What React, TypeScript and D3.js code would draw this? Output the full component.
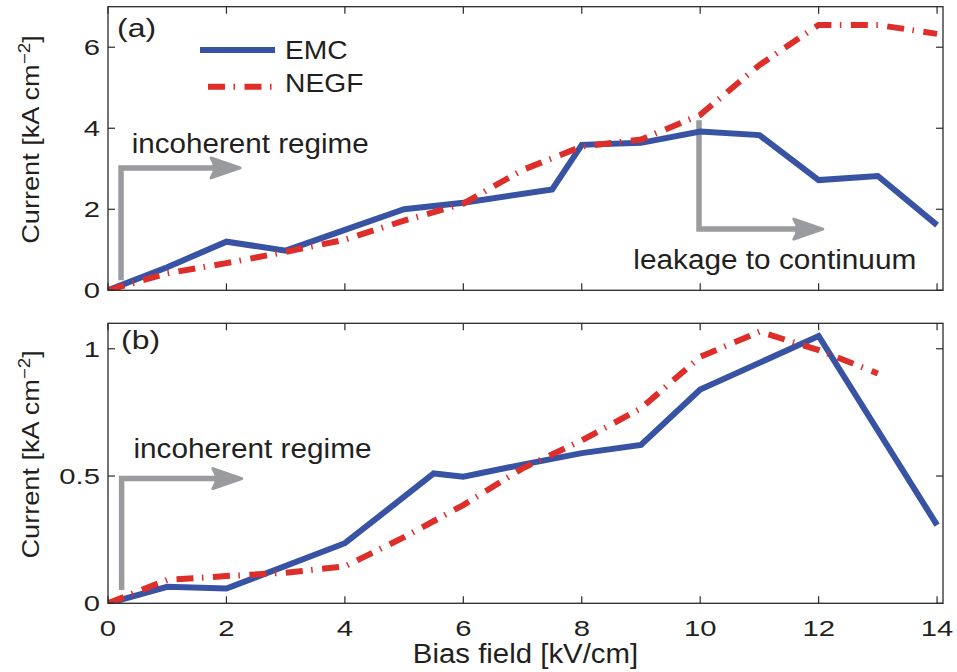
import React from 'react';
import * as d3 from 'd3';

// ---------- data ----------
const xTicks = [0, 2, 4, 6, 8, 10, 12, 14];
const xTickLabels = ['0', '2', '4', '6', '8', '10', '12', '14'];
const yTicksA = [0, 2, 4, 6];
const yTickLabelsA = ['0', '2', '4', '6'];
const yTicksB = [0, 0.5, 1];
const yTickLabelsB = ['0', '0.5', '1'];

// panel (a)
const emcXA = [0, 1, 2, 3, 4, 5, 6, 7.5, 8, 9, 10, 11, 12, 13, 14];
const emcYA = [0, 0.57, 1.2, 0.98, 1.49, 2.0, 2.16, 2.49, 3.59, 3.64, 3.92, 3.83, 2.72, 2.82, 1.61];
const negfXA = [0, 1, 2, 3, 4, 5, 6, 7, 8, 9, 10, 11, 12, 13, 14];
const negfYA = [0, 0.42, 0.67, 0.95, 1.25, 1.72, 2.14, 2.97, 3.55, 3.72, 4.33, 5.56, 6.55, 6.55, 6.33];

// panel (b)
const emcXB = [0, 1, 2, 4, 5.5, 6, 7, 8, 9, 10, 12, 14];
const emcYB = [0, 0.065, 0.058, 0.236, 0.51, 0.497, 0.545, 0.59, 0.622, 0.84, 1.05, 0.307];
const negfXB = [0, 1, 2, 3, 4, 5, 6, 7, 8, 9, 10, 11, 12, 13];
const negfYB = [0, 0.092, 0.107, 0.12, 0.145, 0.26, 0.386, 0.53, 0.64, 0.766, 0.968, 1.067, 0.995, 0.903];

const seriesNames = ['EMC', 'NEGF'];

// ---------- style ----------
const W = 957;
const H = 672;
const FONT = '"Liberation Sans", Arial, Helvetica, sans-serif';
const TEXT = '#231f20';
const AXIS = '#2a2a2a';
const BLUE = '#3853a4';
const RED = '#de2e2a';
const GRAY = '#9a9b9e';
const LW = 6;
const DASH = '17,8.5,1.5,9.5';

const xScale = d3.scaleLinear().domain([0, 14.1]).range([108, 943]);
const yA = d3.scaleLinear().domain([0, 7]).range([290.3, 6.7]);
const yB = d3.scaleLinear().domain([0, 1.1]).range([603.3, 323.3]);

function SText({ x, y, sx = 1, anchor = 'start', size, rotate = 0, children }: any) {
  return (
    <text
      transform={`translate(${x},${y}) rotate(${rotate}) scale(${sx},1)`}
      textAnchor={anchor}
      fontSize={size}
      fill={TEXT}
      fontFamily={FONT}
    >
      {children}
    </text>
  );
}

function Arrow({ x, yBottom, yTop, tipX, ys }: any) {
  const px = xScale(x);
  const pb = ys(yBottom);
  const pt = ys(yTop);
  const tx = xScale(tipX);
  return (
    <g>
      <path
        d={`M${px},${pb} L${px},${pt} L${tx - 18},${pt}`}
        fill="none"
        stroke={GRAY}
        strokeWidth={5.5}
        strokeLinejoin="miter"
      />
      <path
        d={`M${tx},${pt} L${tx - 29},${pt - 10} Q${tx - 22},${pt} ${tx - 29},${pt + 10} Z`}
        fill={GRAY}
        stroke={GRAY}
        strokeWidth={3}
        strokeLinejoin="round"
      />
    </g>
  );
}

function Panel({ ys, yTicks, yLabels, emcX, emcY, negfX, negfY, showX, id }: any) {
  const [y0, y1] = ys.range();
  const [x0, x1] = xScale.range();
  const line = d3
    .line<number>()
    .x((d: any) => xScale(d[0]))
    .y((d: any) => ys(d[1]));
  const emcPts: any = emcX.map((v: number, i: number) => [v, emcY[i]]);
  const negfPts: any = negfX.map((v: number, i: number) => [v, negfY[i]]);
  const tl = 7;
  return (
    <g>
      <defs>
        <clipPath id={`clip-${id}`}>
          <rect x={x0} y={y1} width={x1 - x0} height={y0 - y1} />
        </clipPath>
      </defs>
      <g clipPath={`url(#clip-${id})`}>
        <path d={line(emcPts) || ''} fill="none" stroke={BLUE} strokeWidth={LW} strokeLinejoin="miter" />
        <path
          d={line(negfPts) || ''}
          fill="none"
          stroke={RED}
          strokeWidth={LW}
          strokeDasharray={DASH}
          strokeLinejoin="miter"
        />
      </g>
      {/* box */}
      <rect x={x0} y={y1} width={x1 - x0} height={y0 - y1} fill="none" stroke={AXIS} strokeWidth={1.3} />
      {/* x ticks */}
      {xTicks.map((t, i) => (
        <g key={`xt${i}`}>
          <line x1={xScale(t)} x2={xScale(t)} y1={y0} y2={y0 - tl} stroke={AXIS} strokeWidth={1.2} />
          <line x1={xScale(t)} x2={xScale(t)} y1={y1} y2={y1 + tl} stroke={AXIS} strokeWidth={1.2} />
          {showX && (
            <SText x={xScale(t)} y={y0 + 33} sx={1.3} anchor="middle" size={22.5}>
              {xTickLabels[i]}
            </SText>
          )}
        </g>
      ))}
      {/* y ticks */}
      {yTicks.map((t: number, i: number) => (
        <g key={`yt${i}`}>
          <line x1={x0} x2={x0 + tl} y1={ys(t)} y2={ys(t)} stroke={AXIS} strokeWidth={1.2} />
          <line x1={x1} x2={x1 - tl} y1={ys(t)} y2={ys(t)} stroke={AXIS} strokeWidth={1.2} />
          <SText x={100} y={ys(t) + 8} sx={1.3} anchor="end" size={22.5}>
            {yLabels[i]}
          </SText>
        </g>
      ))}
      {/* y label */}
      <text
        transform={`translate(39,${(y0 + y1) / 2 - 9}) rotate(-90) scale(1.18,1)`}
        textAnchor="middle"
        fontSize={23}
        fill={TEXT}
        fontFamily={FONT}
      >
        Current [kA cm
        <tspan fontSize={16} dy={-9}>
          −2
        </tspan>
        <tspan dy={9}>]</tspan>
      </text>
    </g>
  );
}

export default function App() {
  return (
    <svg
      width={W}
      height={H}
      viewBox={`0 0 ${W} ${H}`}
      style={{ position: 'absolute', left: 0, top: 0, background: '#fff' }}
    >
      <rect x={0} y={0} width={W} height={H} fill="#fff" />
      {/* annotations panel (a) under lines */}
      <Arrow x={0.22} yBottom={0.25} yTop={3.02} tipX={2.23} ys={yA} />
      <Arrow x={9.98} yBottom={4.2} yTop={1.51} tipX={12.07} ys={yA} />
      <Arrow x={0.23} yBottom={0.052} yTop={0.49} tipX={2.26} ys={yB} />

      <Panel
        id="a"
        ys={yA}
        yTicks={yTicksA}
        yLabels={yTickLabelsA}
        emcX={emcXA}
        emcY={emcYA}
        negfX={negfXA}
        negfY={negfYA}
        showX={false}
      />
      <Panel
        id="b"
        ys={yB}
        yTicks={yTicksB}
        yLabels={yTickLabelsB}
        emcX={emcXB}
        emcY={emcYB}
        negfX={negfXB}
        negfY={negfYB}
        showX={true}
      />

      {/* panel labels */}
      <SText x={117} y={37.4} sx={1.2} size={26.6}>(a)</SText>
      <SText x={121} y={349.4} sx={1.2} size={26.6}>(b)</SText>

      {/* annotation texts */}
      <text x={xScale(0.4)} y={yA(3.38)} fontSize={27} fill={TEXT} fontFamily={FONT} textLength={237} lengthAdjust="spacingAndGlyphs">
        incoherent regime
      </text>
      <text x={xScale(8.87)} y={yA(0.52)} fontSize={27} fill={TEXT} fontFamily={FONT} textLength={283} lengthAdjust="spacingAndGlyphs">
        leakage to continuum
      </text>
      <text x={xScale(0.43)} y={yB(0.57)} fontSize={27} fill={TEXT} fontFamily={FONT} textLength={238} lengthAdjust="spacingAndGlyphs">
        incoherent regime
      </text>

      {/* legend */}
      <line x1={200} x2={275} y1={50} y2={50} stroke={BLUE} strokeWidth={LW} />
      <line x1={200} x2={275} y1={86.7} y2={86.7} stroke={RED} strokeWidth={LW} strokeDasharray={DASH} strokeDashoffset={-8} />
      <SText x={285} y={59.3} sx={1.13} size={25}>{seriesNames[0]}</SText>
      <SText x={285} y={91.7} sx={1.13} size={25}>{seriesNames[1]}</SText>

      {/* x label */}
      <SText x={525.5} y={663} sx={1.05} anchor="middle" size={28}>
        Bias field [kV/cm]
      </SText>
    </svg>
  );
}
